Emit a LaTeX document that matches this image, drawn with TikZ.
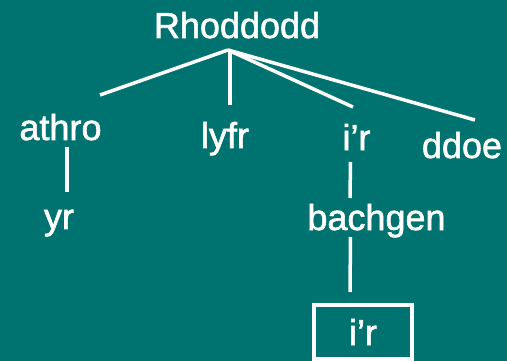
\documentclass[tikz,border=0pt]{standalone}
\usepackage{fontspec}
\setmainfont{Liberation Sans}
\newfontfamily\slidefont[FakeBold=1.6]{Liberation Sans}
\definecolor{slide}{RGB}{0,115,112}
\begin{document}
\begin{tikzpicture}[x=1pt,y=-1pt,
  word/.style={text=white,font=\slidefont\fontsize{36}{40}\selectfont,inner sep=0pt,anchor=base},
  branch/.style={draw=white,line width=3.5pt},
  framed/.style={draw=white,line width=4pt,minimum width=98pt,minimum height=54pt,
    inner sep=0pt,text=white,font=\slidefont\fontsize{36}{40}\selectfont}]
% slide background
\fill[slide] (0,0) rectangle (507,361);
\useasboundingbox (0,0) rectangle (507,361);

% words of the sentence
\node[word] (root) at (237,38) {Rhoddodd};
\node[word] (athro) at (60.5,140) {athro};
\node[word] (lyfr) at (225,148) {lyfr};
\node[word] (ir) at (356.5,150) {i’r};
\node[word] (ddoe) at (462,158) {ddoe};
\node[word] (yr) at (59,229) {yr};
\node[word] (bachgen) at (376.5,230) {bachgen};
\node[framed] (irbox) at (363,332) {i’r};

% branch end points
\coordinate (apex) at (228,50);
\coordinate (athroTop) at (100,95);
\coordinate (lyfrTop) at (230,105);
\coordinate (irTop) at (353,107);
\coordinate (ddoeTop) at (475,120);
\coordinate (athroBot) at (67,147);
\coordinate (yrTop) at (67,192);
\coordinate (irBot) at (350.5,162);
\coordinate (bachgenTop) at (350,198);
\coordinate (bachgenBot) at (350.5,237);
\coordinate (boxTop) at (350,292);

% branches
\draw[branch] (apex) -- (athroTop);
\draw[branch] (230,50) -- (lyfrTop);
\draw[branch] (apex) -- (irTop);
\draw[branch] (apex) -- (ddoeTop);
\draw[branch] (athroBot) -- (yrTop);
\draw[branch] (irBot) -- (bachgenTop);
\draw[branch] (bachgenBot) -- (boxTop);
\end{tikzpicture}
\end{document}
